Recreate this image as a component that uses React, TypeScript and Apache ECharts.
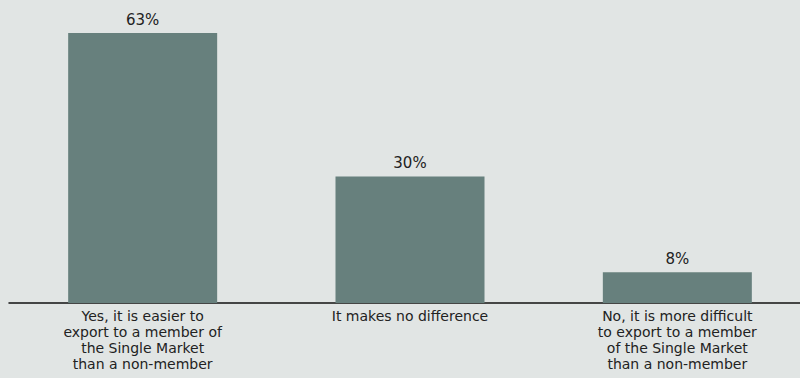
import React, { useEffect, useRef } from "react";
import * as echarts from "echarts";

const categories = [
  "Yes, it is easier to\nexport to a member of\nthe Single Market\nthan a non-member",
  "It makes no difference",
  "No, it is more difficult\nto export to a member\nof the Single Market\nthan a non-member",
];
const values = [63, 29.5, 7.2];
const valueLabels = ["63%", "30%", "8%"];

export default function App() {
  const ref = useRef<HTMLDivElement>(null);
  useEffect(() => {
    if (!ref.current) return;
    const chart = echarts.init(ref.current, undefined, { renderer: "svg" });
    chart.setOption({
      animation: false,
      backgroundColor: "#e1e5e4",
      grid: { left: 9, width: 802, top: 3, bottom: 75, outerBoundsMode: "none", containLabel: false },
      xAxis: {
        type: "category",
        data: categories,
        axisLine: { show: true, lineStyle: { color: "#111", width: 1.5 } },
        axisTick: { show: false },
        axisLabel: {
          interval: 0,
          color: "#222",
          fontFamily: "DejaVu Sans, Verdana, sans-serif",
          fontSize: 14,
          lineHeight: 16,
          margin: 5,
        },
      },
      yAxis: {
        type: "value",
        min: 0,
        max: 70,
        show: false,
        splitLine: { show: false },
      },
      series: [
        {
          type: "bar",
          data: values,
          barWidth: 149,
          itemStyle: { color: "#67807d" },
          label: {
            show: true,
            position: "top",
            distance: 6,
            color: "#222",
            fontFamily: "DejaVu Sans, Verdana, sans-serif",
            fontSize: 15,
            formatter: (p: any) => valueLabels[p.dataIndex],
          },
        },
      ],
    });
    return () => chart.dispose();
  }, []);
  return <div ref={ref} style={{ width: 800, height: 378, position: "absolute", left: 0, top: 0 }} />;
}
